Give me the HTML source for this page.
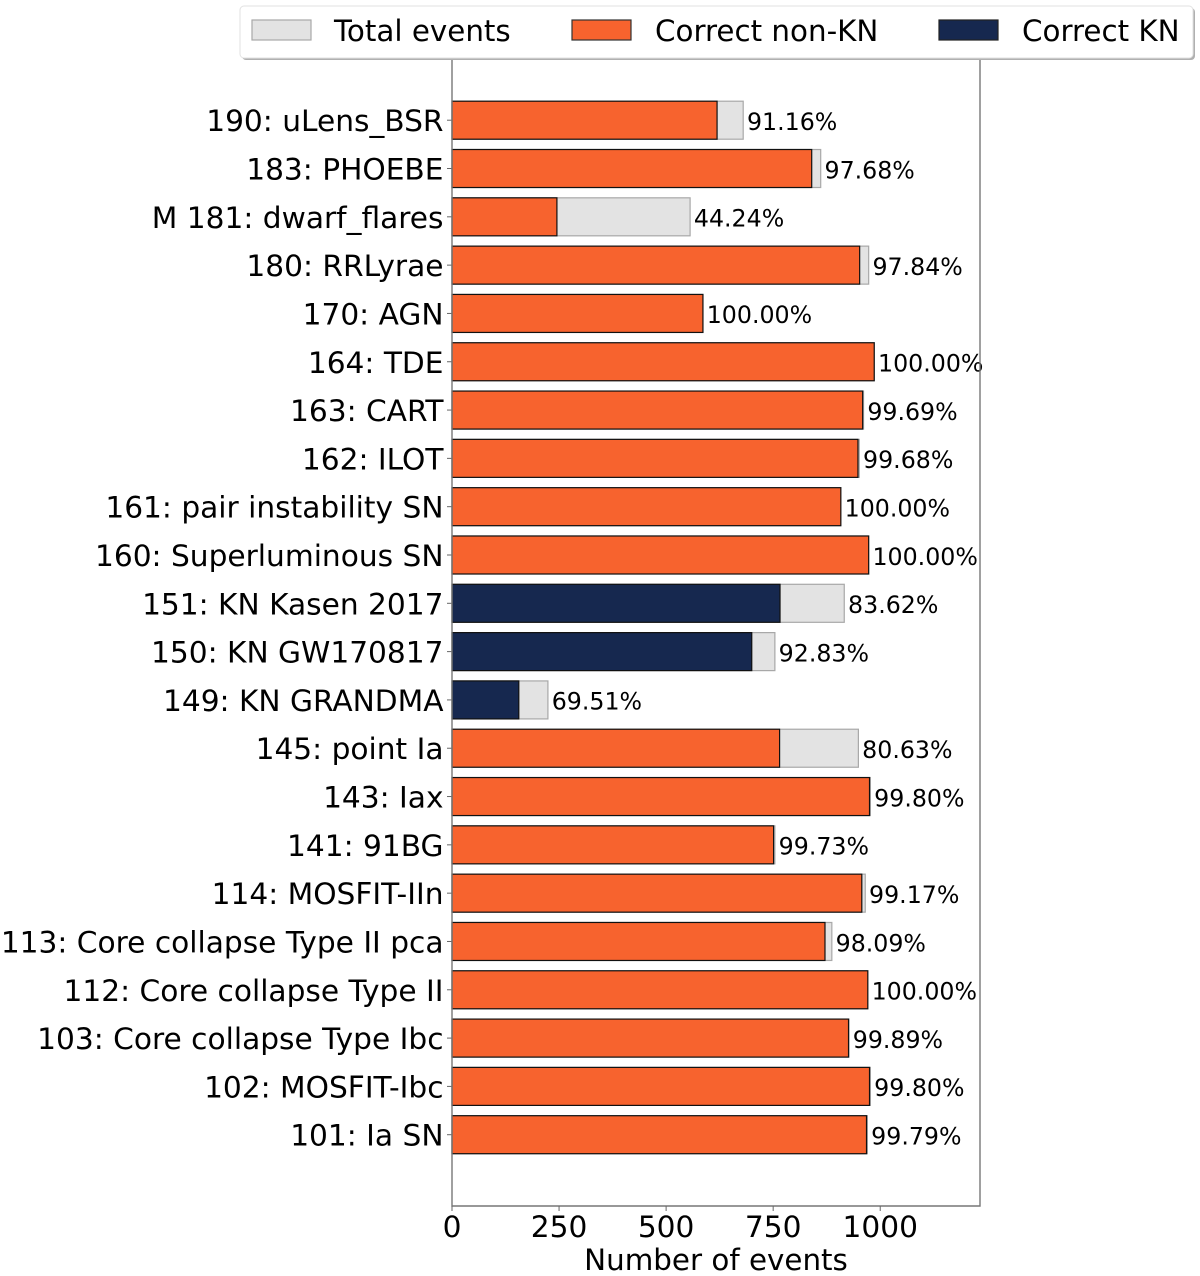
<!DOCTYPE html>
<html lang="en"><head><meta charset="utf-8"><title>Events per class</title>
<style>
html,body{margin:0;padding:0;background:#fff;width:1200px;height:1276px;overflow:hidden}
svg{display:block}
text{font-family:"DejaVu Sans","Liberation Sans",sans-serif;fill:#000}
</style></head>
<body>
<svg id="chart" xmlns="http://www.w3.org/2000/svg" width="1200" height="1276" viewBox="0 0 1200 1276"></svg>
<script>
const categories = ["190: uLens_BSR","183: PHOEBE","M 181: dwarf_flares","180: RRLyrae","170: AGN","164: TDE","163: CART","162: ILOT","161: pair instability SN","160: Superluminous SN","151: KN Kasen 2017","150: KN GW170817","149: KN GRANDMA","145: point Ia","143: Iax","141: 91BG","114: MOSFIT-IIn","113: Core collapse Type II pca","112: Core collapse Type II","103: Core collapse Type Ibc","102: MOSFIT-Ibc","101: Ia SN"];
const totalEvents = [680,861,556,973,586,986,961,951,908,973,916,754,224,949,977,754,965,887,971,927,977,970];
const correctEvents = [619,840,245,952,586,986,959,948,908,973,766,700,156,765,975,751,957,871,971,926,975,968];
const isKN = [0,0,0,0,0,0,0,0,0,0,1,1,1,0,0,0,0,0,0,0,0,0];
const percentLabels = ["91.16%","97.68%","44.24%","97.84%","100.00%","100.00%","99.69%","99.68%","100.00%","100.00%","83.62%","92.83%","69.51%","80.63%","99.80%","99.73%","99.17%","98.09%","100.00%","99.89%","99.80%","99.79%"];
const xTicks = [0,250,500,750,1000];
const xMax = 1233;

const svg = document.getElementById('chart');
const NS = 'http://www.w3.org/2000/svg';
const plot = {left:452,right:980,bottom:1206,firstY:120.2,step:48.31,barH:38};
const xScale = v => plot.left + v*(plot.right-plot.left)/xMax;
const yScale = i => plot.firstY + i*plot.step;
function mk(tag,attrs,parent){
  const e=document.createElementNS(NS,tag);
  for(const k in attrs)e.setAttribute(k,attrs[k]);
  (parent||svg).appendChild(e);
  return e;
}
function slug(s){return s.toLowerCase().replace(/[^a-z0-9]+/g,'-').replace(/^-|-$/g,'');}

categories.forEach((c,i)=>{
  const y=yScale(i), s=slug(c);
  const tot=mk('rect',{x:plot.left,y:y-plot.barH/2,width:xScale(totalEvents[i])-plot.left,height:plot.barH,fill:'#e3e3e3',stroke:'#a8a8a8','stroke-width':1.2});
  
  
  const cor=mk('rect',{x:plot.left,y:y-plot.barH/2,width:xScale(correctEvents[i])-plot.left,height:plot.barH,fill:isKN[i]?'#16284f':'#f7632e',stroke:'#111','stroke-width':1.2});
  
  
  const tick=mk('line',{x1:plot.left-5,x2:plot.left,y1:y,y2:y,stroke:'#666','stroke-width':1});
  
  
  const lab=mk('text',{x:443.5,y:y+11,'text-anchor':'end','font-size':29.65});
  lab.textContent=c;
  
  
  const pct=mk('text',{x:xScale(totalEvents[i])+3.8,y:y+9.8,'font-size':23.7});
  pct.textContent=percentLabels[i];
  
  
});

const spines=mk('path',{d:`M${plot.left} 40V${plot.bottom}H${plot.right}V40`,fill:'none',stroke:'#777','stroke-width':1.4});



xTicks.forEach(t=>{
  const x=xScale(t);
  const tk=mk('line',{x1:x,x2:x,y1:plot.bottom,y2:plot.bottom+5,stroke:'#666','stroke-width':1});
  
  
  const lb=mk('text',{x:x,y:1237,'text-anchor':'middle','font-size':29.65});
  lb.textContent=t;
  
  
});
const xTitle=mk('text',{x:716,y:1270,'text-anchor':'middle','font-size':29.35});
xTitle.textContent='Number of events';



const legend=mk('g',{});


const shadow=mk('rect',{x:242,y:8,width:953,height:52,rx:4,fill:'#b0b0b0'},legend);


const box=mk('rect',{x:240,y:6,width:953,height:52,rx:4,fill:'#fff',stroke:'#e2e2e2','stroke-width':1},legend);


const legendNames=['Total events','Correct non-KN','Correct KN'];
const legendFill=['#e3e3e3','#f7632e','#16284f'];
const legendStroke=['#a8a8a8','#333','#222'];
const legendSwatchX=[252,572,939];
const legendTextX=[334,655,1022];
legendNames.forEach((n,i)=>{
  const sw=mk('rect',{x:legendSwatchX[i],y:20,width:59,height:20,fill:legendFill[i],stroke:legendStroke[i],'stroke-width':1.2},legend);
  
  
  const t=mk('text',{x:legendTextX[i],y:41,'font-size':29.35},legend);
  t.textContent=n;
  
  
});
</script>
</body></html>
